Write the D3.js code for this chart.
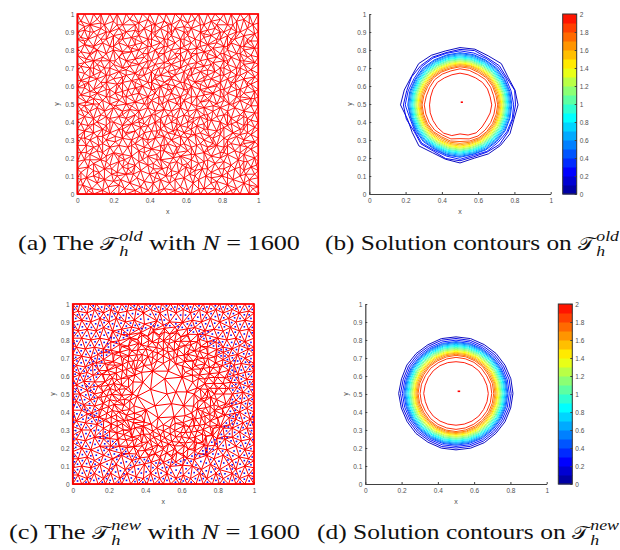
<!DOCTYPE html>
<html>
<head>
<meta charset="utf-8">
<script src="https://cdn.jsdelivr.net/npm/d3@7"></script>
<style>
  html, body { margin: 0; padding: 0; background: #fff; }
  svg { display: block; }
  .axis text { font: 6.5px "Liberation Sans", sans-serif; fill: #505050; }
  .axis line, .axis path { stroke: #404040; }
  .axis-label { font: 7px "Liberation Sans", sans-serif; fill: #505050; }
  .caption { font-family: "Liberation Serif", serif; fill: #111; white-space: pre; }
</style>
</head>
<body>
<svg id="chart" width="620" height="550"></svg>
<script>
// Tick labels
const yTicks = [0, 0.1, 0.2, 0.3, 0.4, 0.5, 0.6, 0.7, 0.8, 0.9, 1];
const xTicks = [0, 0.2, 0.4, 0.6, 0.8, 1];
const barTicks = [0, 0.2, 0.4, 0.6, 0.8, 1, 1.2, 1.4, 1.6, 1.8, 2];

// Colormap
const colorStops = [0, 0.25, 0.85, 1.4, 2];
const colorValues = ['#00008f', '#0000ff', '#00ffff', '#ffff00', '#ff0000'];
const barBands = d3.range(20);

// Mesh boundary nodes (x, y in hundredths)
const boundaryXY = [
  0,0, 5,0, 9,0, 14,0, 18,0, 23,0, 27,0, 32,0, 36,0, 41,0, 45,0, 50,0, 54,0, 59,0, 63,0, 68,0, 72,0, 77,0, 81,0, 86,0, 90,0, 95,0, 100,0,
  0,100, 4,100, 9,100, 13,100, 18,100, 22,100, 27,100, 31,100, 36,100, 40,100, 45,100, 49,100, 54,100, 58,100, 63,100, 67,100, 72,100, 76,100, 81,100, 85,100, 90,100, 95,100, 100,100,
  0,5, 0,9, 0,14, 0,18, 0,23, 0,27, 0,32, 0,36, 0,41, 0,45, 0,50, 0,54, 0,59, 0,63, 0,68, 0,72, 0,77, 0,81, 0,86, 0,90, 0,95,
  100,4, 100,9, 100,13, 100,18, 100,22, 100,27, 100,31, 100,36, 100,40, 100,45, 100,49, 100,54, 100,58, 100,63, 100,67, 100,72, 100,76, 100,81, 100,85, 100,90, 100,95
];

// Nodes of the old, uniform mesh
const oldMeshXY = [
  3,5, 8,3, 11,6, 17,4, 20,7, 26,3, 29,6, 35,4, 39,2, 42,6, 48,3, 51,6, 57,4, 61,2, 64,6, 70,3, 74,6, 79,2, 83,5, 88,3, 92,6, 97,3,
  5,9, 9,10, 15,8, 19,11, 24,8, 27,11, 33,9, 37,7, 40,11, 46,8, 49,10, 54,8, 59,9, 62,11, 67,8, 71,10, 77,7, 80,10, 86,8, 90,10, 95,8, 98,11,
  2,12, 6,15, 12,12, 15,14, 22,12, 25,15, 30,12, 35,13, 39,16, 44,12, 47,14, 52,13, 56,12, 60,15, 65,13, 69,14, 74,12, 78,14, 83,12, 87,14, 92,13, 96,15,
  4,19, 9,17, 13,19, 18,16, 23,18, 28,17, 32,16, 36,19, 42,17, 46,19, 51,17, 55,18, 58,16, 63,19, 67,17, 72,19, 76,17, 81,18, 85,16, 89,19, 94,18, 98,20,
  2,23, 7,22, 11,24, 16,21, 20,23, 25,22, 30,21, 34,24, 39,21, 44,22, 48,24, 53,22, 57,21, 61,24, 65,22, 70,23, 74,21, 79,23, 83,22, 87,24, 92,22, 96,25,
  5,27, 9,26, 14,28, 18,26, 23,27, 28,26, 32,28, 37,26, 41,25, 46,27, 50,28, 55,26, 59,28, 63,26, 68,28, 72,26, 77,27, 81,26, 85,28, 90,27, 94,26, 98,29,
  2,31, 7,30, 11,32, 16,30, 21,32, 25,31, 30,30, 34,32, 39,30, 43,31, 48,32, 52,30, 57,32, 61,31, 65,33, 70,30, 75,31, 79,33, 83,30, 88,32, 92,30, 96,33,
  4,35, 9,34, 14,36, 18,34, 23,36, 27,34, 32,35, 37,34, 41,35, 46,36, 50,34, 55,36, 59,34, 63,36, 68,34, 72,36, 77,35, 81,37, 86,34, 90,36, 94,34, 98,37,
  2,39, 6,38, 11,40, 16,38, 20,40, 25,38, 30,39, 34,40, 39,38, 43,40, 48,38, 52,40, 57,38, 61,40, 66,38, 70,39, 74,41, 79,40, 83,38, 88,40, 92,38, 96,41,
  4,43, 9,42, 13,44, 18,42, 23,43, 27,42, 32,44, 36,42, 41,44, 46,42, 50,44, 55,42, 59,44, 64,42, 68,43, 72,44, 77,43, 81,44, 85,42, 90,44, 94,42, 98,45,
  2,47, 7,46, 11,48, 15,46, 20,48, 25,46, 29,47, 34,46, 39,48, 43,46, 48,47, 52,46, 57,48, 61,46, 66,47, 70,48, 75,46, 79,48, 83,46, 87,48, 92,46, 96,49,
  5,51, 9,50, 14,52, 18,50, 23,52, 27,50, 32,51, 37,50, 41,52, 45,50, 50,52, 55,50, 59,52, 63,50, 68,51, 73,52, 77,50, 81,52, 86,50, 90,52, 94,50, 98,53,
  2,55, 7,54, 11,56, 16,54, 21,56, 25,54, 30,55, 34,56, 39,54, 43,56, 48,54, 52,56, 57,54, 61,56, 66,54, 70,55, 75,56, 79,54, 83,56, 88,54, 92,56, 96,53,
  4,59, 9,58, 14,60, 18,58, 23,60, 28,58, 32,59, 36,60, 41,58, 46,60, 50,58, 54,60, 59,58, 63,60, 68,58, 72,59, 77,60, 81,58, 85,60, 90,58, 94,60, 98,57,
  2,63, 6,62, 11,64, 16,62, 20,64, 25,62, 30,63, 34,64, 39,62, 43,64, 48,62, 52,64, 57,62, 61,64, 65,62, 70,63, 74,64, 79,62, 83,64, 87,62, 92,64, 96,61,
  4,67, 9,66, 13,68, 18,66, 23,68, 27,66, 32,67, 37,66, 41,68, 46,66, 50,68, 54,66, 59,68, 63,66, 68,68, 72,66, 76,68, 81,66, 85,68, 90,66, 94,68, 98,65,
  2,71, 7,70, 11,72, 15,70, 20,72, 25,70, 29,71, 34,72, 39,70, 43,72, 48,70, 52,72, 57,70, 61,72, 65,70, 70,71, 74,72, 79,70, 83,72, 88,70, 92,72, 96,69,
  5,75, 9,74, 14,76, 18,74, 23,76, 27,74, 32,75, 37,76, 41,74, 45,76, 50,74, 55,76, 59,74, 63,76, 68,74, 72,75, 77,76, 81,74, 85,76, 90,74, 94,76, 98,73,
  2,79, 7,78, 11,80, 16,78, 20,80, 25,78, 30,79, 34,80, 39,78, 43,80, 48,78, 52,80, 57,78, 61,80, 66,78, 70,79, 74,80, 79,78, 83,80, 88,78, 92,80, 96,77,
  4,83, 9,82, 14,84, 18,82, 23,84, 28,82, 32,83, 36,84, 41,82, 46,84, 50,82, 54,84, 59,82, 63,84, 68,82, 72,83, 77,84, 81,82, 85,84, 90,82, 94,84, 98,81,
  2,87, 6,86, 11,88, 16,86, 20,88, 25,86, 30,87, 34,88, 39,86, 43,88, 48,86, 52,88, 57,86, 61,88, 65,86, 70,87, 74,88, 79,86, 83,88, 87,86, 92,88, 96,85,
  4,91, 9,90, 13,92, 18,90, 23,92, 27,90, 32,91, 37,92, 41,90, 46,92, 50,90, 54,92, 59,90, 63,92, 68,90, 72,91, 76,92, 81,90, 85,92, 90,90, 94,92, 98,89,
  2,96, 7,94, 11,97, 15,94, 20,96, 25,94, 29,97, 34,95, 39,97, 43,94, 48,96, 52,94, 57,97, 61,95, 65,97, 70,94, 74,96, 79,97, 83,94, 88,96, 92,97, 97,94,
  // in-between nodes that break up the rows
  6,2, 14,2, 23,5, 32,2, 45,2, 54,2, 67,3, 76,3, 85,2, 95,5,
  2,8, 12,9, 22,10, 31,11, 43,9, 52,10, 65,10, 74,9, 83,9, 93,11,
  9,13, 19,14, 28,14, 42,14, 50,15, 63,14, 72,14, 81,14, 90,15, 99,16,
  7,19, 16,18, 26,19, 34,18, 44,19, 53,20, 61,17, 70,18, 79,20, 92,18,
  5,23, 14,23, 23,21, 37,23, 46,24, 55,23, 63,22, 72,24, 81,23, 90,23,
  12,27, 21,29, 30,27, 39,28, 48,27, 57,27, 66,27, 75,28, 83,27, 92,28,
  4,31, 14,32, 27,33, 36,31, 45,33, 54,33, 63,33, 73,32, 81,31, 90,33,
  7,37, 16,35, 25,36, 35,37, 44,35, 53,35, 61,37, 70,36, 79,36, 92,36,
  9,39, 18,40, 28,41, 37,39, 46,40, 55,39, 64,40, 72,41, 85,39, 94,39,
  6,45, 16,43, 25,44, 34,42, 43,44, 53,43, 62,43, 70,44, 83,44, 92,43,
  4,49, 12,50, 21,49, 30,49, 39,50, 47,50, 57,50, 66,49, 75,49, 84,50,
  9,53, 18,54, 27,54, 36,53, 45,54, 54,53, 63,54, 72,53, 81,54, 90,54,
  7,57, 16,58, 25,57, 34,58, 43,58, 52,58, 61,58, 70,57, 79,58, 88,58,
  4,61, 13,62, 22,61, 32,62, 41,62, 50,61, 59,62, 68,61, 77,61, 85,62, 94,62,
  7,65, 16,66, 25,65, 34,66, 43,66, 52,65, 61,66, 70,65, 79,66, 88,66,
  9,70, 18,70, 27,69, 36,70, 45,70, 54,69, 63,70, 72,69, 81,70, 90,70,
  4,73, 13,74, 21,74, 30,73, 39,74, 48,73, 57,74, 66,73, 75,73, 83,74, 92,74,
  7,77, 16,78, 25,79, 36,78, 45,78, 54,78, 63,78, 72,78, 81,78, 90,78,
  9,81, 20,82, 30,81, 39,82, 48,82, 57,81, 66,81, 75,81, 83,82, 92,82,
  4,85, 13,86, 23,86, 32,86, 41,86, 50,86, 59,86, 68,85, 77,86, 85,86, 94,86,
  7,90, 16,90, 25,89, 34,90, 43,90, 52,90, 61,90, 70,89, 79,90, 88,90,
  4,93, 13,95, 22,94, 32,94, 41,94, 50,94, 59,93, 68,94, 77,94, 86,94, 95,95
];

// New mesh, outer part (x, y in hundredths)
const newOuterXY = [
  3,5, 8,3, 12,6, 17,3, 21,6, 26,3, 30,6, 35,4, 39,3, 43,6, 48,3, 52,6, 57,3, 61,5, 65,3, 70,6, 74,3, 79,6, 83,3, 88,6, 92,3, 97,5,
  5,10, 10,9, 15,11, 20,8, 24,11, 29,8, 34,10, 66,10, 71,8, 76,11, 81,8, 86,11, 90,8, 95,10,
  3,14, 8,15, 12,13, 17,16, 22,14, 27,16, 74,16, 78,14, 83,16, 88,13, 92,15, 97,14,
  5,20, 10,19, 15,21, 20,19, 80,20, 85,19, 90,21, 95,19,
  2,25, 7,24, 12,26, 17,25, 84,25, 88,26, 93,24, 98,25,
  5,30, 10,30, 88,31, 92,29, 96,31,
  2,35, 7,34, 11,37, 90,36, 94,34, 98,36,
  5,41, 8,39, 92,40, 96,42,
  2,46, 6,44, 93,45, 97,47,
  4,50, 8,52, 94,51, 97,54,
  2,55, 6,57, 92,56, 96,58,
  4,61, 8,62, 91,61, 95,62,
  2,66, 7,65, 11,67, 89,66, 93,67, 98,66,
  5,71, 10,70, 14,72, 86,71, 91,72, 95,70,
  2,76, 7,75, 12,76, 17,75, 83,76, 88,75, 92,77, 97,75,
  5,81, 10,80, 15,81, 20,80, 80,81, 85,80, 90,81, 95,79,
  3,85, 8,86, 13,85, 17,87, 22,85, 27,86, 73,85, 78,86, 83,85, 87,87, 92,85, 97,86,
  5,91, 10,90, 15,92, 20,90, 24,92, 29,90, 34,91, 66,91, 71,90, 76,92, 81,90, 86,92, 90,90, 95,91,
  3,96, 8,95, 12,97, 17,95, 21,97, 25,95, 30,96, 35,97, 39,95, 43,97, 48,95, 52,97, 57,95, 61,97, 65,95, 70,97, 74,95, 79,97, 83,95, 88,97, 92,95, 97,96
];

// New mesh, refined rings around the circle (degrees, radius in thousandths)
const newRingsPolar = [
  10,70, 85,85, 160,75, 235,80, 310,70,
  5,130, 42,140, 78,130, 115,140, 150,130, 185,145, 222,130, 258,135, 295,140, 330,130,
  0,170, 22,175, 45,170, 68,180, 90,170, 112,175, 135,170, 158,180, 180,170, 202,175, 225,170, 248,180, 270,170, 292,175, 315,170, 338,180,
  10,188, 33,192, 56,188, 79,195, 101,188, 124,192, 146,188, 169,195, 191,188, 214,192, 236,188, 259,195, 281,188, 304,192, 326,188, 349,195,
  8,205, 24,212, 41,210, 57,215, 74,205, 90,212, 106,210, 123,215, 139,205, 155,212, 172,210, 188,215, 205,205, 221,212, 238,210, 254,215, 270,205, 287,212, 303,210, 320,215, 336,205, 352,212,
  0,230, 14,235, 28,225, 42,235, 56,230, 70,225, 84,235, 98,230, 112,225, 126,235, 140,230, 154,225, 168,235, 182,230, 196,225, 210,235, 224,230, 238,225, 252,235, 266,230, 280,225, 294,235, 308,230, 322,225, 336,235, 350,230,
  6,246, 20,244, 34,248, 48,246, 62,244, 76,248, 90,246, 104,244, 118,248, 132,246, 146,244, 160,248, 174,246, 188,244, 202,248, 216,246, 230,244, 244,248, 258,246, 272,244, 286,248, 300,246, 314,244, 328,248, 342,246, 356,244,
  7,260, 20,265, 33,262, 46,268, 59,258, 72,262, 85,265, 98,260, 111,268, 124,262, 137,265, 150,260, 163,268, 176,262, 189,258, 202,265, 215,262, 228,268, 241,260, 254,265, 267,262, 280,268, 293,258, 306,262, 319,265, 332,260, 345,268, 356,262,
  0,282, 12,285, 24,278, 36,285, 48,280, 60,285, 72,278, 84,282, 96,285, 108,278, 120,282, 132,285, 144,278, 156,285, 168,280, 180,285, 192,278, 204,285, 216,280, 228,278, 240,285, 252,280, 264,285, 276,278, 288,282, 300,285, 312,278, 324,285, 336,280, 348,285,
  6,296, 18,298, 30,295, 42,298, 54,296, 66,295, 78,298, 90,296, 102,295, 114,298, 126,296, 138,295, 150,298, 162,296, 174,295, 186,298, 198,296, 210,295, 222,298, 234,296, 246,295, 258,298, 270,296, 282,295, 294,298, 306,296, 318,295, 330,298, 342,296, 354,295,
  6,308, 17,313, 28,310, 39,315, 50,310, 61,313, 72,308, 83,310, 94,313, 105,308, 116,313, 127,310, 138,315, 149,310, 160,313, 171,308, 182,313, 193,310, 204,315, 215,310, 226,313, 237,308, 248,310, 259,313, 270,308, 281,313, 292,310, 303,315, 314,310, 325,313, 336,308, 347,313,
  0,332, 10,335, 21,328, 31,335, 42,330, 52,335, 63,328, 73,332, 84,335, 94,328, 105,332, 115,335, 126,328, 136,335, 147,330, 157,335, 168,328, 178,332, 189,335, 199,328, 210,332, 220,335, 231,328, 241,335, 252,330, 262,335, 273,328, 283,332, 294,335, 304,328, 315,332, 325,335, 336,328, 346,335,
  5,348, 15,350, 26,346, 36,350, 47,348, 57,346, 68,350, 78,348, 89,346, 99,350, 110,348, 120,346, 131,350, 141,348, 152,346, 162,350, 173,348, 183,346, 194,350, 204,348, 215,346, 225,350, 236,348, 246,346, 257,350, 267,348, 278,346, 288,350, 299,348, 309,346, 320,350, 330,348, 341,346, 351,350,
  5,362, 15,365, 26,360, 36,365, 47,360, 57,363, 68,358, 78,360, 89,365, 99,358, 110,363, 120,360, 131,365, 141,360, 152,363, 162,358, 173,363, 183,360, 194,365, 204,360, 215,363, 225,358, 236,360, 246,365, 257,358, 267,363, 278,360, 288,365, 299,360, 309,363, 320,358, 330,363, 341,360, 351,365,
  0,382, 10,378, 20,385, 30,380, 40,385, 50,378, 60,382, 70,385, 80,378, 90,382, 100,378, 110,385, 120,380, 130,385, 140,378, 150,382, 160,378, 170,385, 180,380, 190,385, 200,378, 210,382, 220,385, 230,378, 240,382, 250,378, 260,385, 270,380, 280,385, 290,378, 300,382, 310,378, 320,385, 330,380, 340,385, 350,378,
  5,408, 15,402, 25,410, 35,404, 45,410, 55,402, 65,408, 75,410, 85,402, 95,408, 105,402, 115,410, 125,404, 135,410, 145,402, 155,408, 165,402, 175,410, 185,404, 195,410, 205,402, 215,408, 225,410, 235,402, 245,408, 255,402, 265,410, 275,404, 285,410, 295,402, 305,408, 315,402, 325,410, 335,404, 345,410, 355,402
];
const newCenterXY = [52, 50];
const coarseRadius = 0.375;   // blue cell marks sit outside this radius

// Contour levels and their radii (thousandths) every 15 degrees, on the old mesh
const levels = [0.1, 0.2, 0.3, 0.4, 0.5, 0.6, 0.7, 0.8, 0.9, 1, 1.1, 1.2, 1.3, 1.4, 1.5, 1.6, 1.7, 1.8, 1.9, 1.95];
const contoursOld = [
  [320,314,306,322,312,318,316,308,316,322,310,318,328,300,304,320,304,310,320,304,312,316,318,308],
  [306,312,298,306,300,310,306,298,304,306,308,304,312,306,292,304,294,306,308,296,300,308,304,302],
  [296,292,292,296,294,296,298,294,298,298,292,296,302,286,288,298,288,292,300,288,296,294,298,298],
  [286,285,284,287,285,287,288,285,286,288,285,287,288,281,283,286,282,286,289,282,286,286,287,285],
  [281,280,280,282,281,282,283,281,281,283,281,282,283,278,279,281,278,282,284,279,282,281,282,281],
  [275,275,274,276,275,276,277,275,275,277,275,276,277,273,274,275,273,276,278,274,276,275,276,275],
  [270,269,269,270,270,270,271,270,270,271,270,270,271,268,269,270,268,270,272,269,270,270,270,270],
  [264,264,263,265,264,265,265,264,264,265,264,265,265,263,263,264,263,265,266,263,265,264,265,264],
  [259,258,258,259,259,259,260,259,259,260,259,259,260,257,258,259,258,259,260,258,259,259,259,258],
  [253,253,252,254,253,254,254,253,253,254,253,254,254,252,252,253,252,254,255,253,254,253,253,253],
  [248,247,247,248,248,248,249,248,248,249,248,248,249,247,247,248,247,248,249,247,248,248,248,247],
  [242,242,241,243,242,243,243,242,242,243,242,243,243,241,242,242,241,243,244,242,243,242,242,242],
  [237,236,236,237,237,237,238,236,237,238,236,237,238,236,236,237,236,237,238,236,237,237,237,236],
  [231,231,230,232,231,232,232,231,231,232,231,232,232,230,231,231,230,232,233,231,232,231,231,231],
  [226,225,225,226,226,226,227,225,226,227,225,226,227,225,225,226,225,226,227,225,226,226,226,225],
  [220,219,219,221,220,222,222,219,220,221,219,220,221,219,219,220,218,220,220,219,221,220,220,219],
  [214,212,213,215,213,216,216,212,214,215,212,213,215,213,213,214,210,213,212,213,215,214,214,213],
  [208,205,207,209,206,209,210,206,208,209,205,206,209,207,207,208,203,206,202,206,209,208,207,206],
  [196,192,195,198,194,197,199,194,196,197,193,192,197,195,196,197,192,194,186,194,198,196,195,194],
  [175,172,175,175,172,172,175,172,172,176,172,168,168,170,172,176,180,175,160,172,178,172,168,172]
];
const centerMarkOld = [0.504, 0.516, 0.51, 0.51];

// Same contour levels on the new mesh
const contoursNew = [
  [314,313,312,312,311,313,312,313,310,311,313,311,316,312,311,312,310,312,311,312,313,311,312,312],
  [304,303,302,302,301,303,303,304,301,302,302,301,306,303,301,302,300,303,301,302,303,302,302,303],
  [294,293,293,293,292,294,294,294,292,293,293,292,296,293,292,293,292,293,292,293,294,293,293,293],
  [286,286,285,285,285,286,286,286,285,285,285,285,288,285,285,285,285,285,285,285,286,285,285,285],
  [281,281,280,280,280,281,281,281,280,280,280,280,282,280,280,280,280,280,280,280,281,280,280,280],
  [276,276,275,275,275,276,276,276,275,275,275,275,277,275,275,275,275,275,275,275,276,275,275,275],
  [270,270,270,270,270,270,271,270,270,270,270,270,271,270,270,270,270,270,270,270,270,270,270,270],
  [265,265,264,264,264,265,265,265,264,264,264,264,265,264,264,264,264,264,264,264,265,264,264,264],
  [259,259,259,259,259,259,260,259,259,259,259,259,260,259,259,259,259,259,259,259,259,259,259,259],
  [254,254,253,253,253,254,254,254,253,253,253,253,254,253,253,253,253,253,253,253,254,253,253,253],
  [248,248,248,248,248,248,249,248,248,248,248,248,249,248,248,248,248,248,248,248,248,248,248,248],
  [243,243,242,242,242,243,243,243,242,242,242,242,243,242,242,242,242,242,242,242,243,242,242,242],
  [238,237,237,237,237,237,238,237,237,237,237,237,238,237,237,237,237,237,237,237,237,237,237,237],
  [232,232,231,231,231,232,232,232,231,231,231,231,232,231,231,231,231,231,231,231,232,231,231,231],
  [227,226,226,226,226,226,227,226,226,226,226,226,227,226,226,226,226,226,226,226,226,226,226,226],
  [221,221,220,220,220,221,222,221,220,220,220,220,221,220,220,220,220,221,221,220,220,220,220,220],
  [215,215,213,214,214,215,216,215,213,214,213,214,215,214,213,214,214,215,216,215,214,214,214,214],
  [208,208,206,208,208,209,210,208,207,208,206,208,209,208,206,208,208,209,210,208,207,207,207,207],
  [197,197,195,197,198,198,199,197,196,197,195,197,198,197,195,197,197,197,198,197,196,196,196,196],
  [178,176,175,177,177,176,175,176,177,177,176,176,178,175,176,177,176,175,175,175,176,177,176,177]
];
const centerMarkNew = [0.509, 0.523, 0.515, 0.515];

const captions = [
  { tag: '(a) The ', sup: 'old', tail: ' with ', eq: ' = 1600' },
  { tag: '(b) Solution contours on ', sup: 'old', tail: '', eq: '' },
  { tag: '(c) The ', sup: 'new', tail: ' with ', eq: ' = 1600' },
  { tag: '(d) Solution contours on ', sup: 'new', tail: '', eq: '' }
];

const svg = d3.select('#chart');
const color = d3.scaleLinear().domain(colorStops).range(colorValues);

// Plot frames in page pixels
const frames = {
  a: { x0: 77.3, x1: 258.3, y0: 194, y1: 14, labelX: 59 },
  b: { x0: 369.3, x1: 550.7, y0: 194, y1: 14, labelX: 352, barX: 562.7 },
  c: { x0: 72.7, x1: 254, y0: 484, y1: 304, labelX: 55 },
  d: { x0: 365.3, x1: 546.7, y0: 484, y1: 304, labelX: 348, barX: 558.3 }
};

function pairs(flat) {
  const out = [];
  for (let i = 0; i < flat.length; i += 2) out.push([flat[i] / 100, flat[i + 1] / 100]);
  return out;
}

function drawAxes(f) {
  const x = d3.scaleLinear().domain([0, 1]).range([f.x0, f.x1]);
  const y = d3.scaleLinear().domain([0, 1]).range([f.y0, f.y1]);
  const gx = svg.append('g').attr('class', 'axis').attr('transform', `translate(0,${f.y0})`)
    .call(d3.axisBottom(x).tickValues(xTicks).tickFormat(d3.format('')).tickSizeInner(-2).tickSizeOuter(0).tickPadding(4));
  const gy = svg.append('g').attr('class', 'axis').attr('transform', `translate(${f.x0},0)`)
    .call(d3.axisLeft(y).tickValues(yTicks).tickFormat(d3.format('')).tickSizeInner(-2).tickSizeOuter(0).tickPadding(3));
  gx.select('.domain').attr('stroke-width', 1);
  gy.select('.domain').attr('stroke-width', 1.2);
  svg.append('text').attr('class', 'axis-label').attr('x', (f.x0 + f.x1) / 2).attr('y', f.y0 + 20)
    .attr('text-anchor', 'middle').text('x');
  svg.append('text').attr('class', 'axis-label').attr('text-anchor', 'middle')
    .attr('transform', `translate(${f.labelX},${(f.y0 + f.y1) / 2}) rotate(-90)`).text('y');
  return { x, y };
}

function drawMesh(f, nodes, showCells) {
  const { x, y } = drawAxes(f);
  const delaunay = d3.Delaunay.from(nodes, d => x(d[0]), d => y(d[1]));
  svg.append('path').attr('d', delaunay.render())
    .attr('fill', 'none').attr('stroke', '#ff0000').attr('stroke-width', showCells ? 1 : 0.9);
  svg.append('rect').attr('x', x(0)).attr('y', y(1)).attr('width', x(1) - x(0)).attr('height', y(0) - y(1))
    .attr('fill', 'none').attr('stroke', '#ff0000').attr('stroke-width', 1.6);
  if (showCells) {
    const t = delaunay.triangles;
    const cells = [];
    for (let i = 0; i < t.length; i += 3) {
      const cx = (nodes[t[i]][0] + nodes[t[i + 1]][0] + nodes[t[i + 2]][0]) / 3;
      const cy = (nodes[t[i]][1] + nodes[t[i + 1]][1] + nodes[t[i + 2]][1]) / 3;
      if (Math.hypot(cx - 0.5, cy - 0.5) > coarseRadius) cells.push([cx, cy]);
    }
    svg.append('g').selectAll('rect').data(cells).join('rect')
      .attr('x', d => x(d[0]) - 0.8).attr('y', d => y(d[1]) - 0.8)
      .attr('width', 1.6).attr('height', 1.6).attr('fill', '#1010f0');
  }
}

function drawContours(f, rings, mark, cx, cy) {
  const { x, y } = drawAxes(f);
  const line = d3.lineRadial().curve(d3.curveLinearClosed)
    .angle((d, i) => Math.PI / 2 - i * Math.PI / 12)
    .radius(d => d / 1000 * (x(1) - x(0)));
  svg.append('g').attr('transform', `translate(${x(cx)},${y(cy)})`)
    .selectAll('path').data(rings).join('path')
    .attr('d', d => line(d))
    .attr('fill', 'none')
    .attr('stroke', (d, i) => color(levels[i]))
    .attr('stroke-width', 0.95);
  svg.append('line').attr('x1', x(mark[0])).attr('x2', x(mark[1])).attr('y1', y(mark[2])).attr('y2', y(mark[3]))
    .attr('stroke', '#ff0000').attr('stroke-width', 1.6);

  // Colorbar
  const barW = 14;
  const band = d3.scaleBand().domain(barBands).range([f.y0, f.y1]);
  svg.append('g').selectAll('rect').data(barBands).join('rect')
    .attr('x', f.barX).attr('y', d => band(d)).attr('width', barW).attr('height', band.bandwidth() + 0.5)
    .attr('fill', d => color((d + 0.5) / 10));
  const barScale = d3.scaleLinear().domain([0, 2]).range([f.y0, f.y1]);
  svg.append('g').attr('class', 'axis').attr('transform', `translate(${f.barX + barW},0)`)
    .call(d3.axisRight(barScale).tickValues(barTicks).tickFormat(d3.format('')).tickSizeInner(-2).tickSizeOuter(0).tickPadding(3))
    .select('.domain').remove();
  svg.append('rect').attr('x', f.barX).attr('y', f.y1).attr('width', barW).attr('height', f.y0 - f.y1)
    .attr('fill', 'none').attr('stroke', '#333').attr('stroke-width', 1);
}

// Caption with the stacked sub and superscript, pieces placed by measured width,
// then the whole group is stretched to the wide look of the Computer Modern original
function drawCaption(c, startX, endX, baseY, size) {
  const g = svg.append('g');
  let cursor = 0;
  const piece = (text, opts = {}) => {
    const s = opts.size || size;
    const el = g.append('text').attr('class', 'caption').attr('x', cursor)
      .attr('y', opts.dy || 0).attr('font-size', s)
      .attr('font-style', opts.italic ? 'italic' : 'normal').text(text);
    if (opts.family) el.style('font-family', opts.family);
    return el.node().getComputedTextLength();
  };
  cursor += piece(c.tag);
  cursor += piece('\u{1D4AF}', { family: '"DejaVu Sans", serif', size: size * 0.85 }) + 1;
  const supW = piece(c.sup, { italic: true, size: size * 0.7, dy: -9 });
  piece('h', { italic: true, size: size * 0.7, dy: 6 });
  cursor += supW;
  if (c.tail) {
    cursor += piece(c.tail);
    cursor += piece('N', { italic: true });
    cursor += piece(c.eq);
  }
  g.attr('transform', `translate(${startX},${baseY}) scale(${(endX - startX) / cursor},1)`);
}

drawMesh(frames.a, pairs(boundaryXY).concat(pairs(oldMeshXY)), false);
drawContours(frames.b, contoursOld, centerMarkOld, 0.5, 0.495);

const newNodes = pairs(boundaryXY).concat(pairs(newOuterXY));
for (let i = 0; i < newRingsPolar.length; i += 2) {
  const a = newRingsPolar[i] * Math.PI / 180;
  const r = newRingsPolar[i + 1] / 1000;
  newNodes.push([0.5 + r * Math.cos(a), 0.5 + r * Math.sin(a)]);
}
newNodes.push([newCenterXY[0] / 100, newCenterXY[1] / 100]);
drawMesh(frames.c, newNodes, true);
drawContours(frames.d, contoursNew, centerMarkNew, 0.5, 0.503);

drawCaption(captions[0], 18, 300, 250, 21);
drawCaption(captions[1], 325, 619, 250, 21);
drawCaption(captions[2], 9, 300, 539, 21);
drawCaption(captions[3], 317, 619, 539, 21);
</script>
</body>
</html>
